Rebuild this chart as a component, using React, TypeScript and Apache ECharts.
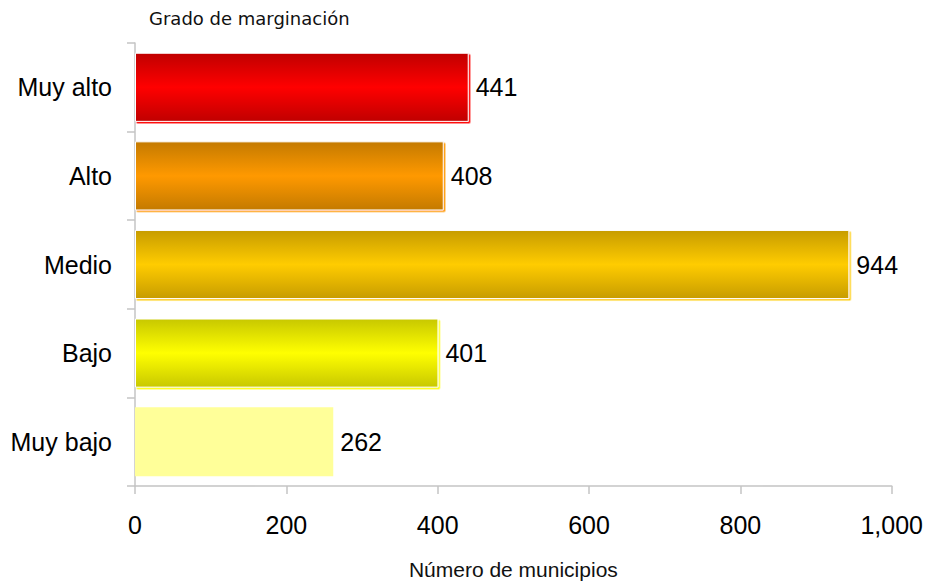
import React, { useEffect, useRef } from "react";
import * as echarts from "echarts";

const categories = ["Muy alto", "Alto", "Medio", "Bajo", "Muy bajo"];
const values = [441, 408, 944, 401, 262];
const edgeColors = ["#C00000", "#C47A00", "#C79C00", "#C8C800", "#FFFF99"];
const midColors = ["#FF0000", "#FF9900", "#FFCC00", "#FFFF00", "#FFFF99"];
const xTicks = [0, 200, 400, 600, 800, 1000];
const titleText = "Grado de marginación";
const xName = "Número de municipios";

export default function App() {
  const ref = useRef<HTMLDivElement>(null);
  useEffect(() => {
    if (!ref.current) return;
    const chart = echarts.init(ref.current, undefined, { renderer: "svg" });
    const data = values.map((v, i) => {
      const flat = i === 4;
      return {
        value: v,
        itemStyle: flat
          ? { color: midColors[i] }
          : {
              color: new echarts.graphic.LinearGradient(0, 0, 0, 1, [
                { offset: 0, color: edgeColors[i] },
                { offset: 0.5, color: midColors[i] },
                { offset: 1, color: edgeColors[i] },
              ]),
              borderColor: "#ffffff",
              borderWidth: 1,
              shadowColor: midColors[i],
              shadowOffsetX: 1.5,
              shadowOffsetY: 1.5,
              shadowBlur: 0,
            },
      };
    });
    chart.setOption({
      animation: false,
      backgroundColor: "#ffffff",
      title: {
        text: titleText,
        left: 144,
        top: 4,
        textStyle: {
          fontFamily: "DejaVu Sans",
          fontSize: 18,
          fontWeight: "normal",
          color: "#111",
        },
      },
      grid: { left: 135, right: 34, top: 43, bottom: 94 },
      xAxis: {
        type: "value",
        min: xTicks[0],
        max: xTicks[xTicks.length - 1],
        interval: 200,
        name: xName,
        nameLocation: "middle",
        nameGap: 73,
        nameTextStyle: { fontFamily: "Liberation Sans", fontSize: 21, color: "#111" },
        axisLine: { show: true, lineStyle: { color: "#c4c4c4", width: 1.5 } },
        axisTick: { show: true, length: 8, lineStyle: { color: "#c4c4c4", width: 1.5 } },
        splitLine: { show: false },
        axisLabel: {
          margin: 26,
          fontFamily: "Liberation Sans",
          fontSize: 25,
          color: "#000",
          formatter: (v: number) => v.toLocaleString("en-US"),
        },
      },
      yAxis: {
        type: "category",
        data: categories,
        inverse: true,
        axisLine: { show: true, lineStyle: { color: "#c4c4c4", width: 1.5 } },
        axisTick: { show: true, length: 8, lineStyle: { color: "#c4c4c4", width: 1.5 } },
        axisLabel: {
          margin: 23,
          fontFamily: "Liberation Sans",
          fontSize: 25,
          color: "#000",
        },
      },
      series: [
        {
          type: "bar",
          data,
          barCategoryGap: "22%",
          label: {
            show: true,
            position: "right",
            distance: 7,
            fontFamily: "Liberation Sans",
            fontSize: 25,
            color: "#000",
          },
        },
      ],
    });
    return () => chart.dispose();
  }, []);
  return (
    <div
      ref={ref}
      style={{ position: "fixed", left: 0, top: 0, width: 926, height: 585 }}
    />
  );
}
